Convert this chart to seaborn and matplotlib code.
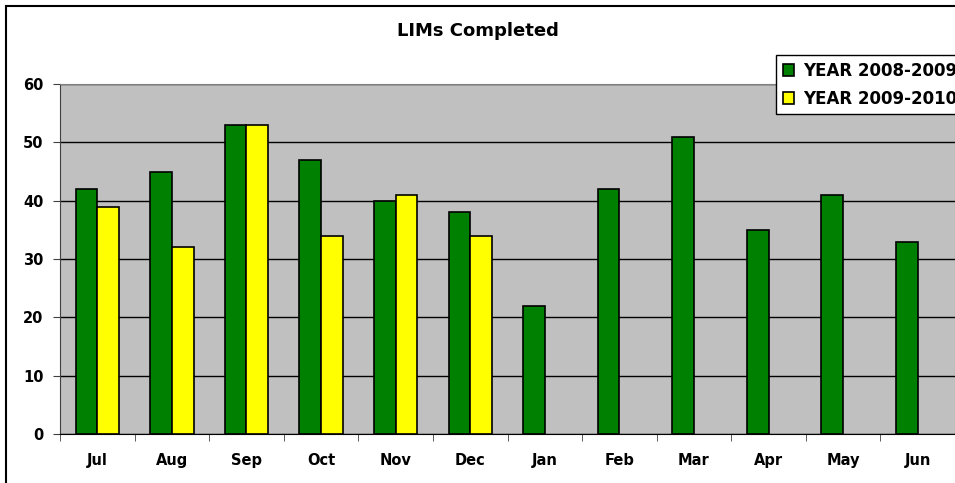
import pandas as pd
import numpy as np
import seaborn as sns
import matplotlib.pyplot as plt
from matplotlib.patches import Rectangle

# data
months = ['Jul', 'Aug', 'Sep', 'Oct', 'Nov', 'Dec', 'Jan', 'Feb', 'Mar', 'Apr', 'May', 'Jun']
year_0809 = [42, 45, 53, 47, 40, 38, 22, 42, 51, 35, 41, 33]
year_0910 = [39, 32, 53, 34, 41, 34, np.nan, np.nan, np.nan, np.nan, np.nan, np.nan]
series_names = ['YEAR 2008-2009', 'YEAR 2009-2010']

df = pd.DataFrame({
    'Month': months * 2,
    'Series': [series_names[0]] * 12 + [series_names[1]] * 12,
    'Value': year_0809 + year_0910,
})

sns.set_style('white')
plt.rcParams['font.family'] = ['DejaVu Sans']
plt.rcParams['font.weight'] = 'bold'
plt.rcParams['text.color'] = 'black'
plt.rcParams['xtick.labelcolor'] = 'black'
plt.rcParams['ytick.labelcolor'] = 'black'

fig = plt.figure(figsize=(9.55, 4.83), dpi=100)
W, H = 955, 483
ax = fig.add_axes([60 / W, 1 - 434 / H, 895 / W, 350 / H])

# outer chart border
fig.patches.append(Rectangle((6 / W, -0.02), 1.0, 1 - 6 / H + 0.02, transform=fig.transFigure,
                             fill=False, edgecolor='black', linewidth=1.5, zorder=0))

sns.barplot(data=df, x='Month', y='Value', hue='Series', order=months,
            palette=['#008000', '#ffff00'], saturation=1, width=0.58, edgecolor='black',
            linewidth=1.2, ax=ax, legend=True)

ax.set_facecolor('#c0c0c0')
ax.set_xlim(-0.5, 11.5)
ax.set_ylim(0, 60)
ax.set_yticks(range(0, 61, 10))
ax.yaxis.grid(True, color='black', linewidth=1)
ax.set_axisbelow(True)
ax.set_xlabel('')
ax.set_ylabel('')

for s in ['top', 'right']:
    ax.spines[s].set_color('#808080')
ax.spines['left'].set_color('#404040')
ax.spines['bottom'].set_color('black')

ax.set_xticks(np.arange(-0.5, 12, 1), minor=True)
ax.tick_params(axis='x', which='major', length=0, pad=14, labelsize=10.5, labelcolor='black')
ax.tick_params(axis='x', which='minor', length=5, direction='out', color='#404040', bottom=True)
ax.tick_params(axis='y', length=5, direction='out', color='#404040', left=True, pad=7,
               labelsize=10.5, labelcolor='black')
for lbl in ax.get_xticklabels() + ax.get_yticklabels():
    lbl.set_fontweight('bold')

fig.text(0.5, 1 - 31 / H, 'LIMs Completed', ha='center', va='center',
         fontsize=13, fontweight='bold', color='black')

handles, labels = ax.get_legend_handles_labels()
ax.get_legend().remove()
leg = fig.legend(handles, labels, loc='upper left', bbox_to_anchor=(776 / W, 1 - 55 / H),
                 frameon=True, fancybox=False, edgecolor='black', framealpha=1,
                 prop={'weight': 'bold', 'size': 12}, handlelength=0.7, handleheight=0.7,
                 handletextpad=0.5, borderpad=0.4, labelspacing=0.6, borderaxespad=0)
leg.get_frame().set_linewidth(1)
leg.set_zorder(10)
for t in leg.get_texts():
    t.set_color('black')

fig.savefig('out.png', dpi=100)
